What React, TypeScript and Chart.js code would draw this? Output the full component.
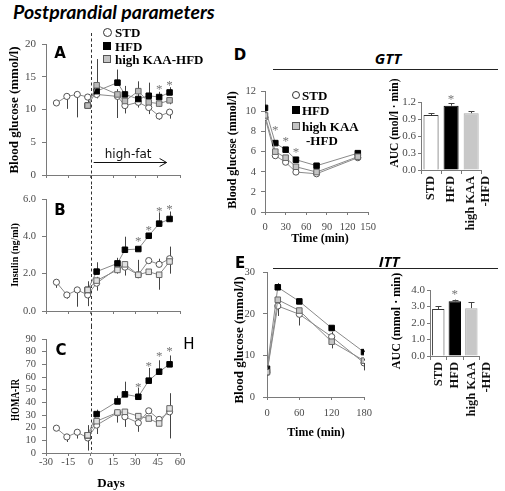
import React, { useEffect, useRef } from 'react';
import { Chart, registerables } from 'chart.js';

Chart.register(...registerables);

const SERIF = '"Liberation Serif", "Times New Roman", serif';
const SANS = '"DejaVu Sans", "Open Sans", sans-serif';
const TICK = '#4a4a4a';
const AXIS = '#7a7a7a';

// ---------- Panels A-C (postprandial time course) ----------
const daysSTD = [-23, -16, -9, -2, 4, 18, 23, 32, 39, 46, 53];
const daysHF = [-2, 4, 18, 23, 32, 39, 46, 53];

const glucoseSTD = [11.0, 12.0, 12.3, 11.9, 12.3, 12.0, 10.6, 11.1, 10.3, 9.0, 9.6];
const glucoseHFD = [10.6, 12.8, 14.1, 12.3, 11.6, 12.1, 11.9, 12.6];
const glucoseKAA = [10.6, 13.7, 12.3, 11.3, 12.8, 11.1, 10.9, 11.4];
const glucoseErrSTD = [-0.4, -1.9, -3.5, -0.8, -0.6, -3.3, -1.2, -0.8, -1.0, -0.6, -1.0];
const glucoseErrHFD = [0, 1.2, 2.0, 1.3, 1.0, 2.0, 0.8, 0.8];
const glucoseErrKAA = [0.6, 4.0, 0.8, -0.8, 1.5, -1.0, -0.5, -0.6];
const glucoseStarDays = [46, 53];
const glucoseStarLevels = [13.6, 14.2];

const insulinSTD = [1.54, 0.86, 1.13, 0.86, 1.49, 2.3, 2.35, 1.94, 2.7, 2.5, 2.8];
const insulinHFD = [1.13, 2.11, 2.55, 3.28, 3.32, 4.03, 4.68, 4.93];
const insulinKAA = [1.13, 1.63, 2.2, 2.5, 1.94, 2.1, 1.94, 2.65];
const insulinErrSTD = [-0.3, -0.2, -0.9, -0.6, -0.4, 0.2, -0.4, 0.8, 0, 0.3, -0.8];
const insulinErrHFD = [0.45, 0.5, 0.3, 0.7, 0, 0, 0.6, 0.4];
const insulinErrKAA = [0.45, 0.2, -0.2, -0.6, 0, 0, -0.8, 0.8];
const insulinStarDays = [32, 39, 46, 53];
const insulinStarLevels = [3.9, 4.5, 5.5, 5.6];

const homaSTD = [19.6, 12.7, 16.4, 11.9, 22, 31.7, 28.6, 23.8, 33.3, 26.5, 32.5];
const homaHFD = [14, 30.7, 40.7, 46.3, 44.4, 57.1, 64.2, 70];
const homaKAA = [14, 25.1, 32, 32.5, 29.1, 27.2, 23.3, 35.2];
const homaErrSTD = [0, -4, -5, -10, -7, -2, -8, -7, 0, -3, -21];
const homaErrHFD = [0, 3.5, 4.5, 10, 7, 10, 9, 7];
const homaErrKAA = [8, 0, -8, 0, -12, 0, 0, 12];
const homaStarDays = [32, 39, 46, 53];
const homaStarLevels = [54.5, 71, 79, 83];

const highFatArrowDays = [2, 51];
const highFatArrowLevel = 2.0;

// ---------- Panel D (GTT) ----------
const gttTimes = [0, 15, 30, 45, 75, 135];
const gttSTD = [9.4, 5.6, 4.95, 3.97, 3.8, 5.4];
const gttHFD = [10.35, 6.85, 6.2, 5.2, 4.6, 5.85];
const gttKAA = [9.6, 6.0, 5.4, 4.5, 3.97, 5.5];
const gttErrSTD = [-0.2, -0.2, -0.15, -0.1, -0.1, -0.15];
const gttErrHFD = [0.3, 0.25, 0.25, 0.2, 0.2, 0.25];
const gttErrKAA = [0, 0, 0, 0, 0, 0];
const gttStarTimes = [15, 30, 45];
const gttStarLevels = [8.4, 7.3, 6.2];

const groups = ['STD', 'HFD', ['high KAA', '-HFD']];
const aucGTT = [0.97, 1.135, 1.0];
const aucGTTErr = [0.03, 0.04, 0.04];
const aucGTTStarLevel = 1.3;

// ---------- Panel E (ITT) ----------
const ittTimes = [0, 20, 60, 120, 180];
const ittSTD = [5.9, 21.9, 19.9, 14.5, 8.2];
const ittHFD = [6.8, 26.4, 23.0, 16.6, 10.8];
const ittKAA = [6.0, 23.4, 20.8, 13.3, 8.75];
const ittErrSTD = [-0.8, -2.4, -2.7, 1.2, -1.8];
const ittErrHFD = [0.4, 1.0, 0.6, 0.5, 0.4];
const ittErrKAA = [0.5, -1.2, 0.4, -1.6, 0.5];

const aucITT = [2.85, 3.32, 2.9];
const aucITTErr = [0.17, 0.1, 0.37];
const aucITTStarLevel = 3.9;

// ---------- helpers ----------
type Box = { x: number; y: number; w: number; h: number };
type Area = { l: number; t: number; r: number; b: number };
type Kind = 'STD' | 'HFD' | 'KAA';

const STYLE: Record<Kind, { ps: string; r: number; fill: string; border: string }> = {
  STD: { ps: 'circle', r: 3.1, fill: '#ffffff', border: '#555555' },
  HFD: { ps: 'rect', r: 3.9, fill: '#000000', border: '#000000' },
  KAA: { ps: 'rect', r: 3.9, fill: '#c4c4c4', border: '#666666' },
};

function lineDs(kind: Kind, xs: number[], ys: number[], errs: number[], kaaFill: string) {
  const st = STYLE[kind];
  return {
    label: kind,
    data: xs.map((x, i) => ({ x, y: ys[i] })),
    errs,
    borderColor: '#8a8a8a',
    borderWidth: 1,
    tension: 0,
    fill: false,
    pointStyle: st.ps,
    pointRadius: st.r,
    pointBackgroundColor: kind === 'KAA' ? kaaFill : st.fill,
    pointBorderColor: st.border,
    pointBorderWidth: 1,
  };
}

function linScale(o: {
  min: number; max: number; step: number; show: boolean; font: number; pad: number; tl: number;
  fit: (s: any) => void; fmt?: (v: number) => string;
}) {
  return {
    type: 'linear',
    min: o.min,
    max: o.max,
    ticks: {
      stepSize: o.step,
      display: o.show,
      font: { family: SERIF, size: o.font },
      color: TICK,
      padding: o.pad,
      maxRotation: 0,
      minRotation: 0,
      autoSkip: false,
      callback: (v: any) => (o.fmt ? o.fmt(Number(v)) : String(v)),
    },
    grid: { display: true, drawOnChartArea: false, drawTicks: true, tickLength: o.tl, color: AXIS, lineWidth: 1 },
    border: { display: true, color: AXIS, width: 1 },
    afterFit: o.fit,
  };
}

type Overlay = {
  dash?: { up: number; down: number };
  stars?: { xs: number[]; ys: number[] };
  arrow?: { from: number; to: number; level: number; text: string };
  caps?: boolean;
};

function overlayPlugin(o: Overlay) {
  return {
    id: 'overlay',
    beforeDatasetsDraw(chart: any) {
      const ctx = chart.ctx;
      const xs = chart.scales.x;
      const ys = chart.scales.y;
      const a = chart.chartArea;
      ctx.save();
      if (o.dash) {
        const px = Math.round(xs.getPixelForValue(0)) + 0.5;
        ctx.strokeStyle = '#333';
        ctx.lineWidth = 1;
        ctx.setLineDash([3, 2.5]);
        ctx.beginPath();
        ctx.moveTo(px, a.top - o.dash.up);
        ctx.lineTo(px, a.bottom + o.dash.down);
        ctx.stroke();
        ctx.setLineDash([]);
      }
      ctx.strokeStyle = '#444';
      ctx.lineWidth = 1;
      chart.data.datasets.forEach((d: any, i: number) => {
        const errs: number[] | undefined = d.errs;
        if (!errs) return;
        const meta = chart.getDatasetMeta(i);
        meta.data.forEach((el: any, j: number) => {
          const e = errs[j];
          if (!e) return;
          const raw = d.data[j];
          const v = typeof raw === 'number' ? raw : raw.y;
          const y0 = ys.getPixelForValue(v);
          const y1 = ys.getPixelForValue(v + e);
          const x = Math.round(el.x) + 0.5;
          ctx.beginPath();
          ctx.moveTo(x, y0);
          ctx.lineTo(x, y1);
          if (o.caps) {
            ctx.moveTo(x - 3, Math.round(y1) + 0.5);
            ctx.lineTo(x + 3, Math.round(y1) + 0.5);
          }
          ctx.stroke();
        });
      });
      ctx.restore();
    },
    afterDatasetsDraw(chart: any) {
      const ctx = chart.ctx;
      const xs = chart.scales.x;
      const ys = chart.scales.y;
      ctx.save();
      if (o.stars) {
        const size = 13;
        ctx.fillStyle = '#777';
        ctx.font = `${size}px ${SERIF}`;
        ctx.textAlign = 'center';
        ctx.textBaseline = 'middle';
        o.stars.xs.forEach((xv, k) => {
          ctx.fillText('*', xs.getPixelForValue(xv), ys.getPixelForValue(o.stars!.ys[k]) + size * 0.25);
        });
      }
      if (o.arrow) {
        const xa = xs.getPixelForValue(o.arrow.from);
        const xb = xs.getPixelForValue(o.arrow.to);
        const ya = Math.round(ys.getPixelForValue(o.arrow.level)) + 0.5;
        ctx.strokeStyle = '#111';
        ctx.lineWidth = 1;
        ctx.beginPath();
        ctx.moveTo(xa, ya);
        ctx.lineTo(xb, ya);
        ctx.moveTo(xb - 7, ya - 4);
        ctx.lineTo(xb, ya);
        ctx.lineTo(xb - 7, ya + 4);
        ctx.stroke();
        ctx.fillStyle = '#111';
        ctx.font = `12px ${SANS}`;
        ctx.textAlign = 'center';
        ctx.textBaseline = 'bottom';
        ctx.fillText(o.arrow.text, (xa + xb) / 2 - 2, ya - 2);
      }
      ctx.restore();
    },
  };
}

function baseOptions(box: Box, area: Area) {
  return {
    responsive: false,
    maintainAspectRatio: false,
    animation: false,
    events: [],
    layout: { padding: { left: 0, top: area.t - box.y, right: box.x + box.w - area.r, bottom: 0 } },
    plugins: { legend: { display: false }, tooltip: { enabled: false }, title: { display: false } },
  };
}

type LineSpec = {
  box: Box; area: Area;
  x: { min: number; max: number; step: number; show: boolean; font: number; pad: number };
  y: { min: number; max: number; step: number; font: number; pad: number; fmt?: (v: number) => string };
  xs: { std: number[]; hf: number[] };
  std: number[]; hfd: number[]; kaa: number[];
  eStd: number[]; eHfd: number[]; eKaa: number[];
  kaaFill: string;
  overlay: Overlay;
};

function lineConfig(s: LineSpec) {
  const opts: any = baseOptions(s.box, s.area);
  const yW = s.area.l - s.box.x;
  const xH = s.box.y + s.box.h - s.area.b;
  opts.scales = {
    x: linScale({ ...s.x, tl: 3, fit: (sc: any) => { sc.height = xH; } }),
    y: linScale({ ...s.y, show: true, tl: 4, fit: (sc: any) => { sc.width = yW; } }),
  };
  return {
    type: 'line',
    data: {
      datasets: [
        lineDs('KAA', s.xs.hf, s.kaa, s.eKaa, s.kaaFill),
        lineDs('HFD', s.xs.hf, s.hfd, s.eHfd, s.kaaFill),
        lineDs('STD', s.xs.std, s.std, s.eStd, s.kaaFill),
      ],
    },
    options: opts,
    plugins: [overlayPlugin(s.overlay)],
  };
}

type BarSpec = {
  box: Box; area: Area; values: number[]; errs: number[];
  y: { max: number; step: number }; starLevel: number;
};

function barConfig(s: BarSpec) {
  const opts: any = baseOptions(s.box, s.area);
  const yW = s.area.l - s.box.x;
  const xH = s.box.y + s.box.h - s.area.b;
  opts.scales = {
    x: {
      type: 'category',
      offset: true,
      ticks: {
        font: { family: SERIF, size: 12.5, weight: 'bold' },
        color: '#111',
        minRotation: 90,
        maxRotation: 90,
        padding: 2,
        autoSkip: false,
      },
      grid: { display: true, drawOnChartArea: false, drawTicks: true, tickLength: 4, offset: true, color: AXIS },
      border: { display: true, color: AXIS, width: 1 },
      afterFit: (sc: any) => { sc.height = xH; },
    },
    y: linScale({
      min: 0, max: s.y.max, step: s.y.step, show: true, font: 11, pad: 2, tl: 3,
      fmt: (v: number) => v.toFixed(1),
      fit: (sc: any) => { sc.width = yW; },
    }),
  };
  return {
    type: 'bar',
    data: {
      labels: groups,
      datasets: [
        {
          data: s.values,
          errs: s.errs,
          backgroundColor: ['#ffffff', '#000000', '#c8c8c8'],
          borderColor: ['#333333', '#000000', '#aaaaaa'],
          borderWidth: 1,
          barPercentage: 0.75,
          categoryPercentage: 1,
        },
      ],
    },
    options: opts,
    plugins: [overlayPlugin({ caps: true, stars: { xs: [1], ys: [s.starLevel] } })],
  };
}

function ChartCanvas({ box, build }: { box: Box; build: () => any }) {
  const ref = useRef<HTMLCanvasElement | null>(null);
  useEffect(() => {
    if (!ref.current) return;
    const chart = new Chart(ref.current, build());
    return () => chart.destroy();
  }, []);
  return (
    <canvas
      ref={ref}
      width={box.w}
      height={box.h}
      style={{ position: 'absolute', left: box.x, top: box.y, width: box.w, height: box.h, display: 'block' }}
    />
  );
}

function Txt(p: {
  x: number; y: number; text: string; size: number; family?: string; weight?: string | number;
  italic?: boolean; rotate?: boolean; left?: boolean; sx?: number; color?: string;
}) {
  const sx = p.sx ?? 1;
  const transform = p.rotate
    ? `translate(-50%,-50%) rotate(-90deg) scaleX(${sx})`
    : `translate(${p.left ? '0' : '-50%'},-50%) scaleX(${sx})`;
  return (
    <div
      style={{
        position: 'absolute', left: p.x, top: p.y, transform, transformOrigin: p.left && !p.rotate ? 'left center' : 'center',
        fontFamily: p.family ?? SERIF, fontSize: p.size, fontWeight: (p.weight ?? 'bold') as any,
        fontStyle: p.italic ? 'italic' : 'normal', whiteSpace: 'nowrap', lineHeight: 1, color: p.color ?? '#000',
      }}
    >
      {p.text}
    </div>
  );
}

function Sym({ x, y, kind, size }: { x: number; y: number; kind: Kind; size: number }) {
  const st: React.CSSProperties = {
    position: 'absolute', left: x - size / 2, top: y - size / 2, width: size, height: size, boxSizing: 'border-box',
  };
  if (kind === 'STD') Object.assign(st, { border: '1px solid #333', borderRadius: '50%', background: '#fff' });
  if (kind === 'HFD') Object.assign(st, { background: '#000' });
  if (kind === 'KAA') Object.assign(st, { background: '#c4c4c4', border: '1px solid #555' });
  return <div style={st} />;
}

// ---------- layout ----------
const boxA: Box = { x: 0, y: 28, w: 200, h: 167 };
const areaA: Area = { l: 46, t: 44, r: 180, b: 175 };
const boxB: Box = { x: 0, y: 186, w: 200, h: 140 };
const areaB: Area = { l: 46, t: 199, r: 180, b: 311 };
const boxC: Box = { x: 0, y: 326, w: 200, h: 165 };
const areaC: Area = { l: 46, t: 339, r: 180, b: 453 };
const boxD: Box = { x: 222, y: 80, w: 160, h: 170 };
const areaD: Area = { l: 265, t: 91, r: 370, b: 212 };
const boxDb: Box = { x: 385, y: 90, w: 120, h: 140 };
const areaDb: Area = { l: 421, t: 102, r: 494, b: 170 };
const boxE: Box = { x: 222, y: 258, w: 160, h: 185 };
const areaE: Area = { l: 267, t: 268, r: 364, b: 397 };
const boxEb: Box = { x: 395, y: 278, w: 110, h: 140 };
const areaEb: Area = { l: 430, t: 290, r: 495, b: 356 };

const dayAxis = { min: -30, max: 60, step: 15 };

export default function App() {
  return (
    <div style={{ position: 'absolute', left: 0, top: 0, width: 505, height: 491, background: '#fff', overflow: 'hidden' }}>
      <ChartCanvas
        box={boxA}
        build={() =>
          lineConfig({
            box: boxA, area: areaA,
            x: { ...dayAxis, show: false, font: 10.5, pad: 0 },
            y: { min: 0, max: 20, step: 5, font: 11, pad: 6 },
            xs: { std: daysSTD, hf: daysHF },
            std: glucoseSTD, hfd: glucoseHFD, kaa: glucoseKAA,
            eStd: glucoseErrSTD, eHfd: glucoseErrHFD, eKaa: glucoseErrKAA,
            kaaFill: '#bcbcbc',
            overlay: {
              dash: { up: 11, down: 11 },
              stars: { xs: glucoseStarDays, ys: glucoseStarLevels },
              arrow: { from: highFatArrowDays[0], to: highFatArrowDays[1], level: highFatArrowLevel, text: 'high-fat' },
            },
          })
        }
      />
      <ChartCanvas
        box={boxB}
        build={() =>
          lineConfig({
            box: boxB, area: areaB,
            x: { ...dayAxis, show: false, font: 10.5, pad: 0 },
            y: { min: 0, max: 6, step: 2, font: 10.5, pad: 6, fmt: (v) => v.toFixed(1) },
            xs: { std: daysSTD, hf: daysHF },
            std: insulinSTD, hfd: insulinHFD, kaa: insulinKAA,
            eStd: insulinErrSTD, eHfd: insulinErrHFD, eKaa: insulinErrKAA,
            kaaFill: '#e2e2e2',
            overlay: { dash: { up: 13, down: 15 }, stars: { xs: insulinStarDays, ys: insulinStarLevels } },
          })
        }
      />
      <ChartCanvas
        box={boxC}
        build={() =>
          lineConfig({
            box: boxC, area: areaC,
            x: { ...dayAxis, show: true, font: 10.5, pad: 0 },
            y: { min: 0, max: 90, step: 10, font: 10.5, pad: 6 },
            xs: { std: daysSTD, hf: daysHF },
            std: homaSTD, hfd: homaHFD, kaa: homaKAA,
            eStd: homaErrSTD, eHfd: homaErrHFD, eKaa: homaErrKAA,
            kaaFill: '#e2e2e2',
            overlay: { dash: { up: 13, down: 0 }, stars: { xs: homaStarDays, ys: homaStarLevels } },
          })
        }
      />
      <ChartCanvas
        box={boxD}
        build={() =>
          lineConfig({
            box: boxD, area: areaD,
            x: { min: 0, max: 150, step: 30, show: true, font: 10.5, pad: 6 },
            y: { min: 0, max: 12, step: 2, font: 10.5, pad: 5 },
            xs: { std: gttTimes, hf: gttTimes },
            std: gttSTD, hfd: gttHFD, kaa: gttKAA,
            eStd: gttErrSTD, eHfd: gttErrHFD, eKaa: gttErrKAA,
            kaaFill: '#c4c4c4',
            overlay: { stars: { xs: gttStarTimes, ys: gttStarLevels } },
          })
        }
      />
      <ChartCanvas
        box={boxDb}
        build={() => barConfig({ box: boxDb, area: areaDb, values: aucGTT, errs: aucGTTErr, y: { max: 1.2, step: 0.3 }, starLevel: aucGTTStarLevel })}
      />
      <ChartCanvas
        box={boxE}
        build={() =>
          lineConfig({
            box: boxE, area: areaE,
            x: { min: 0, max: 180, step: 60, show: true, font: 10.5, pad: 7 },
            y: { min: 0, max: 30, step: 10, font: 10.5, pad: 8 },
            xs: { std: ittTimes, hf: ittTimes },
            std: ittSTD, hfd: ittHFD, kaa: ittKAA,
            eStd: ittErrSTD, eHfd: ittErrHFD, eKaa: ittErrKAA,
            kaaFill: '#c4c4c4',
            overlay: {},
          })
        }
      />
      <ChartCanvas
        box={boxEb}
        build={() => barConfig({ box: boxEb, area: areaEb, values: aucITT, errs: aucITTErr, y: { max: 4, step: 1 }, starLevel: aucITTStarLevel })}
      />

      {/* Titles */}
      <Txt x={13} y={12} left text="Postprandial parameters" size={19.5} family='Lato, "Open Sans", sans-serif' italic weight={700} />
      <Txt x={388} y={58} text="GTT" size={15} family='"Open Sans", sans-serif' italic weight={700} />
      <div style={{ position: 'absolute', left: 273, top: 69, width: 225, height: 0, borderTop: '1.5px solid #222' }} />
      <Txt x={389} y={261} text="ITT" size={15} family='"Open Sans", sans-serif' italic weight={700} />
      <div style={{ position: 'absolute', left: 273, top: 268, width: 225, height: 0, borderTop: '1.5px solid #222' }} />

      {/* Panel letters */}
      <Txt x={60} y={53} text="A" size={15} family={SANS} />
      <Txt x={60} y={210} text="B" size={15} family={SANS} />
      <Txt x={61} y={350} text="C" size={15} family={SANS} />
      <Txt x={189} y={344} text="H" size={15} family={SANS} weight={400} />
      <Txt x={240} y={55} text="D" size={15} family={SANS} />
      <Txt x={240} y={263} text="E" size={15} family={SANS} />

      {/* Axis titles */}
      <Txt x={13} y={110} rotate text="Blood glucose (mmol/l)" size={13} />
      <Txt x={15} y={255} rotate text="Insulin (ng/ml)" size={10} />
      <Txt x={15} y={400} rotate text="HOMA-IR" size={12} sx={0.75} />
      <Txt x={111} y={482} text="Days" size={13} />
      <Txt x={232} y={150} rotate text="Blood glucose (mmol/l)" size={12} />
      <Txt x={320} y={238} text="Time (min)" size={12} />
      <Txt x={395} y={123} rotate text="AUC (mol/l · min)" size={11.5} />
      <Txt x={238} y={340} rotate text="Blood glucose (mmol/l)" size={13} />
      <Txt x={316} y={432} text="Time (min)" size={12} />
      <Txt x={396} y={321} rotate text="AUC (mmol · min)" size={12} />

      {/* Legend A */}
      <Sym x={107} y={32} kind="STD" size={9} />
      <Txt x={115} y={32} left text="STD" size={13} />
      <Sym x={107} y={45.5} kind="HFD" size={8} />
      <Txt x={115} y={45.5} left text="HFD" size={13} />
      <Sym x={107} y={59} kind="KAA" size={8} />
      <Txt x={115} y={59} left text="high KAA-HFD" size={13} />

      {/* Legend D */}
      <Sym x={296} y={95} kind="STD" size={8} />
      <Txt x={302} y={95} left text="STD" size={13} />
      <Sym x={296} y={110} kind="HFD" size={8} />
      <Txt x={302} y={110} left text="HFD" size={13} />
      <Sym x={296} y={126} kind="KAA" size={8} />
      <Txt x={302} y={126} left text="high KAA" size={13} />
      <Txt x={306} y={140} left text="-HFD" size={13} />
    </div>
  );
}
